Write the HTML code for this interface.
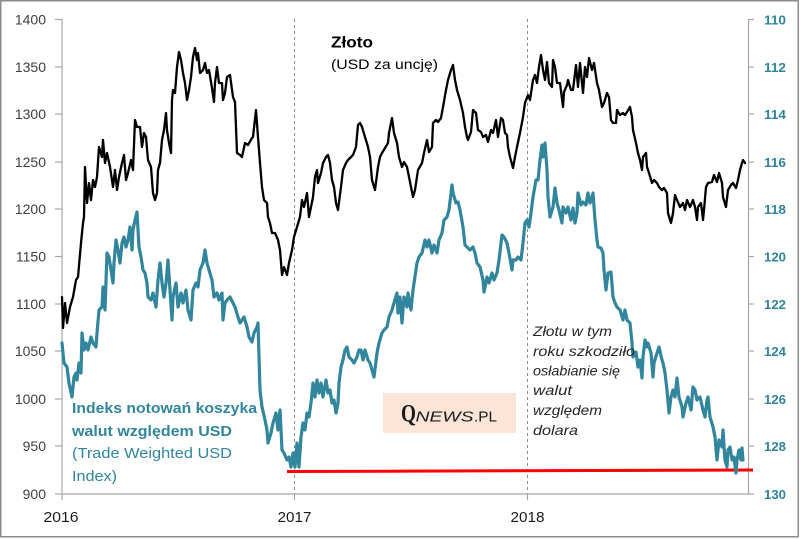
<!DOCTYPE html>
<html><head><meta charset="utf-8"><style>
html,body{margin:0;padding:0;background:#fff;}
svg{display:block;}
</style></head><body>
<svg width="800" height="539" viewBox="0 0 800 539" xmlns="http://www.w3.org/2000/svg">
<rect x="0" y="0" width="800" height="539" fill="#fff"/>
<rect x="0.75" y="0.75" width="797.5" height="536" fill="none" stroke="#8c8c8c" stroke-width="1.5"/>

<!-- dashed year lines -->
<line x1="294.5" y1="19" x2="294.5" y2="494" stroke="#8a8a8a" stroke-width="1" stroke-dasharray="3,3"/>
<line x1="527.5" y1="19" x2="527.5" y2="494" stroke="#8a8a8a" stroke-width="1" stroke-dasharray="3,3"/>

<!-- axes -->
<g stroke="#a6a6a6" stroke-width="1.2" fill="none">
<line x1="62" y1="19.5" x2="62" y2="500"/>
<line x1="748.5" y1="19.5" x2="748.5" y2="494"/>
<line x1="62" y1="494" x2="748.5" y2="494"/>
<line x1="55" y1="19.5" x2="62" y2="19.5"/>
<line x1="55" y1="67" x2="62" y2="67"/>
<line x1="55" y1="114" x2="62" y2="114"/>
<line x1="55" y1="162" x2="62" y2="162"/>
<line x1="55" y1="209" x2="62" y2="209"/>
<line x1="55" y1="256.5" x2="62" y2="256.5"/>
<line x1="55" y1="304" x2="62" y2="304"/>
<line x1="55" y1="351" x2="62" y2="351"/>
<line x1="55" y1="399" x2="62" y2="399"/>
<line x1="55" y1="446" x2="62" y2="446"/>
<line x1="55" y1="494" x2="62" y2="494"/>
<line x1="748.5" y1="19.5" x2="754" y2="19.5"/>
<line x1="748.5" y1="67" x2="754" y2="67"/>
<line x1="748.5" y1="114" x2="754" y2="114"/>
<line x1="748.5" y1="162" x2="754" y2="162"/>
<line x1="748.5" y1="209" x2="754" y2="209"/>
<line x1="748.5" y1="256.5" x2="754" y2="256.5"/>
<line x1="748.5" y1="304" x2="754" y2="304"/>
<line x1="748.5" y1="351" x2="754" y2="351"/>
<line x1="748.5" y1="399" x2="754" y2="399"/>
<line x1="748.5" y1="446" x2="754" y2="446"/>
<line x1="748.5" y1="494" x2="754" y2="494"/>
<line x1="294.5" y1="494" x2="294.5" y2="500"/>
<line x1="527.5" y1="494" x2="527.5" y2="500"/>
</g>

<!-- left tick labels -->
<g font-family="Liberation Sans, sans-serif" font-size="14" fill="#404040" text-anchor="end">
<text x="46" y="24.5">1400</text>
<text x="46" y="72">1350</text>
<text x="46" y="119">1300</text>
<text x="46" y="167">1250</text>
<text x="46" y="214">1200</text>
<text x="46" y="261.5">1150</text>
<text x="46" y="309">1100</text>
<text x="46" y="356">1050</text>
<text x="46" y="404">1000</text>
<text x="46" y="451">950</text>
<text x="46" y="499">900</text>
</g>

<!-- right tick labels -->
<g font-family="Liberation Sans, sans-serif" font-size="13" font-weight="bold" fill="#31849b">
<text x="764" y="24.5" textLength="22" lengthAdjust="spacingAndGlyphs">110</text>
<text x="764" y="72" textLength="22" lengthAdjust="spacingAndGlyphs">112</text>
<text x="764" y="119" textLength="22" lengthAdjust="spacingAndGlyphs">114</text>
<text x="764" y="167" textLength="22" lengthAdjust="spacingAndGlyphs">116</text>
<text x="764" y="214" textLength="22" lengthAdjust="spacingAndGlyphs">118</text>
<text x="764" y="261.5" textLength="22" lengthAdjust="spacingAndGlyphs">120</text>
<text x="764" y="309" textLength="22" lengthAdjust="spacingAndGlyphs">122</text>
<text x="764" y="356" textLength="22" lengthAdjust="spacingAndGlyphs">124</text>
<text x="764" y="404" textLength="22" lengthAdjust="spacingAndGlyphs">126</text>
<text x="764" y="451" textLength="22" lengthAdjust="spacingAndGlyphs">128</text>
<text x="764" y="499" textLength="22" lengthAdjust="spacingAndGlyphs">130</text>
</g>

<!-- x labels -->
<g font-family="Liberation Sans, sans-serif" font-size="14.5" fill="#1a1a1a">
<text x="43.5" y="522" textLength="35" lengthAdjust="spacingAndGlyphs">2016</text>
<text x="277.5" y="522" textLength="34" lengthAdjust="spacingAndGlyphs">2017</text>
<text x="510.5" y="522" textLength="34" lengthAdjust="spacingAndGlyphs">2018</text>
</g>

<!-- red line -->
<line x1="287" y1="471.5" x2="753" y2="470" stroke="#ff0000" stroke-width="3"/>

<!-- teal series -->
<polyline fill="none" stroke="#31859c" stroke-width="3.2" stroke-linejoin="round" stroke-linecap="round" points="62,343 64,363 67,367 69,383 72,397 74,377 76,373 77,380 79,363 81,373 82,333 84,350 86,343 88,350 91,337 93,343 96,347 97,333 99,310 102,307 103,287 105,310 107,253 109,257 111,270 113,283 114,263 116,240 118,250 120,263 122,243 124,237 126,247 128,240 130,227 132,250 133,230 135,220 137,212 139,247 141,257 143,270 145,273 147,283 148,297 151,300 153,293 156,307 158,280 160,263 162,283 164,297 166,283 168,260 170,290 172,320 173,297 176,283 178,307 181,293 183,303 186,290 188,310 191,320 193,290 196,283 198,287 200,270 203,263 205,250 207,263 209,270 212,280 214,297 217,293 219,300 222,293 223,320 225,303 227,300 230,297 233,303 235,307 238,317 240,323 242,320 244,317 247,327 249,337 252,342 254,333 257,327 258,323 260,390 262,407 265,420 267,430 268,443 271,433 273,423 276,413 278,430 280,410 282,450 284,453 287,460 289,457 291,467 293,453 295,467 297,443 299,467 301,437 303,423 305,430 307,413 309,417 311,403 313,383 315,397 317,380 319,393 321,383 323,397 326,380 328,393 330,390 332,403 334,400 336,413 338,403 339,383 341,367 343,360 345,350 347,347 349,357 352,360 354,363 357,357 359,350 361,350 363,360 365,350 368,360 370,363 372,370 374,377 377,353 379,343 382,333 384,330 387,327 389,317 392,310 394,303 397,293 398,313 400,297 402,323 404,297 407,307 408,293 411,310 413,290 417,263 419,257 422,253 425,240 427,247 429,240 432,253 434,245 437,253 439,240 442,233 444,220 447,217 449,210 452,185 453,193 456,203 458,202 460,210 463,227 465,245 467,247 470,250 473,247 475,253 477,263 480,267 483,280 484,292 487,277 489,283 492,273 494,280 497,273 499,260 502,235 504,237 507,243 509,253 512,270 513,260 516,260 518,257 521,260 523,243 525,223 527,220 529,227 531,213 533,197 536,180 538,180 540,160 542,145 543,157 545,143 547,170 548,197 550,217 553,207 555,188 557,203 559,210 562,223 563,207 566,213 568,207 571,220 573,208 575,223 577,213 578,193 581,205 583,202 586,205 588,193 590,203 592,197 593,193 595,220 597,240 598,247 601,248 603,253 604,270 606,290 608,273 611,272 613,297 615,303 617,307 620,310 623,320 625,310 627,320 630,323 632,343 633,357 636,352 638,367 640,360 642,378 643,357 645,340 647,347 648,343 651,353 653,377 654,363 657,353 659,347 662,360 663,363 665,373 667,390 669,413 671,397 673,390 675,397 677,378 679,397 682,407 683,417 686,403 688,397 691,410 693,387 695,390 697,400 700,397 703,410 705,417 707,400 708,397 710,417 713,427 715,437 717,460 719,440 722,447 723,430 725,460 727,467 728,450 730,447 732,460 734,457 736,473 737,460 739,450 741,460 742,448 743,460"/>

<!-- black gold series -->
<polyline fill="none" stroke="#000" stroke-width="2.3" stroke-linejoin="round" stroke-linecap="round" points="62,297 63,328 65,303 67,323 70,307 73,297 76,280 78,277 81,243 83,223 84,217 85,167 87,203 89,183 91,200 93,180 95,187 97,177 99,147 102,157 103,140 105,163 107,153 110,167 113,187 115,170 117,190 119,177 122,163 124,155 126,180 128,173 131,160 133,170 135,120 137,127 140,127 142,147 144,133 146,137 148,160 151,167 153,193 155,200 157,193 158,170 160,163 162,140 164,130 166,113 167,130 169,143 171,153 172,100 173,90 175,93 177,67 179,52 181,60 183,73 185,83 187,100 189,90 191,77 193,57 195,48 197,60 198,53 200,73 203,70 205,63 207,73 209,70 212,88 214,102 215,83 217,67 219,83 222,83 223,100 225,93 227,77 230,75 233,97 235,102 237,153 240,155 242,157 245,143 248,145 252,138 253,137 256,110 258,137 260,163 262,187 264,200 267,203 268,217 270,223 272,233 275,233 278,240 280,250 282,275 284,267 287,275 289,263 292,250 294,237 297,227 300,217 302,200 304,207 307,193 309,217 311,207 313,197 315,177 317,170 318,183 321,173 323,163 326,157 328,155 330,163 332,180 334,187 336,203 338,210 341,187 343,170 346,163 348,160 351,157 353,155 356,147 358,125 360,123 362,127 365,137 368,147 370,157 372,180 375,190 378,167 380,157 382,153 385,148 388,143 389,133 392,118 394,133 397,143 399,157 402,167 404,162 407,167 409,177 411,187 413,197 415,190 418,170 422,163 424,153 427,140 429,152 432,147 433,123 436,120 438,122 441,118 443,107 446,90 448,80 451,70 453,65 455,80 457,90 460,100 463,113 465,127 467,137 468,140 471,132 473,110 476,113 478,130 481,132 483,137 486,135 488,142 491,130 493,133 496,120 498,137 501,118 503,120 505,133 507,135 508,147 510,157 513,168 515,157 517,147 520,133 523,117 525,103 528,95 530,100 533,80 535,75 537,83 539,67 541,55 543,70 545,80 547,62 549,83 552,87 553,60 555,67 557,83 560,83 563,107 564,92 567,85 568,80 571,90 573,90 576,65 578,87 580,63 583,93 585,67 587,77 589,58 592,70 594,63 597,83 599,90 602,107 604,103 607,93 609,97 611,120 613,123 616,123 617,110 620,115 623,113 625,115 627,112 630,107 632,117 633,130 636,143 638,153 640,160 642,170 643,157 646,153 647,167 649,173 652,183 654,180 657,183 659,187 662,190 664,188 667,193 668,213 671,223 673,213 675,195 677,200 680,207 683,203 685,210 687,200 690,207 693,200 695,207 697,220 698,207 701,203 703,220 704,210 706,187 708,183 712,182 714,175 717,182 719,173 722,183 723,197 726,207 728,190 731,185 733,183 736,188 738,180 740,170 742,163 743,160 745,163"/>

<!-- title -->
<text x="331" y="47.5" font-family="Liberation Sans, sans-serif" font-size="16" font-weight="bold" fill="#000" textLength="42" lengthAdjust="spacingAndGlyphs">Złoto</text>
<text x="331" y="69" font-family="Liberation Sans, sans-serif" font-size="14" fill="#000" textLength="107" lengthAdjust="spacingAndGlyphs">(USD za uncję)</text>

<!-- teal label -->
<g font-family="Liberation Sans, sans-serif" font-size="14.5" fill="#31859c">
<text x="72" y="413" font-weight="bold" textLength="185" lengthAdjust="spacingAndGlyphs">Indeks notowań koszyka</text>
<text x="72" y="436" font-weight="bold" textLength="160" lengthAdjust="spacingAndGlyphs">walut względem USD</text>
<text x="72" y="458" textLength="160" lengthAdjust="spacingAndGlyphs">(Trade Weighted USD</text>
<text x="72" y="481" textLength="45" lengthAdjust="spacingAndGlyphs">Index)</text>
</g>

<!-- annotation -->
<g font-family="Liberation Sans, sans-serif" font-size="14" font-style="italic" fill="#262626">
<text x="533" y="336" textLength="79" lengthAdjust="spacingAndGlyphs">Złotu w tym</text>
<text x="533" y="356" textLength="102" lengthAdjust="spacingAndGlyphs">roku szkodziło</text>
<text x="533" y="375.5" textLength="87" lengthAdjust="spacingAndGlyphs">osłabianie się</text>
<text x="533" y="395" textLength="39" lengthAdjust="spacingAndGlyphs">walut</text>
<text x="533" y="415" textLength="69" lengthAdjust="spacingAndGlyphs">względem</text>
<text x="533" y="435" textLength="45" lengthAdjust="spacingAndGlyphs">dolara</text>
</g>

<!-- QNEWS box -->
<rect x="383" y="393" width="133" height="40" fill="#fce4d6"/>
<text x="401" y="421.5" font-family="Liberation Serif, serif" font-size="25" font-weight="bold" fill="#1a1a1a" textLength="15" lengthAdjust="spacingAndGlyphs">Q</text>
<text x="415.5" y="421.5" font-family="Liberation Sans, sans-serif" font-size="14.5" font-style="italic" fill="#1a1a1a" textLength="58" lengthAdjust="spacingAndGlyphs">NEWS</text>
<text x="474" y="421.5" font-family="Liberation Sans, sans-serif" font-size="14.5" fill="#1a1a1a" textLength="23" lengthAdjust="spacingAndGlyphs">.PL</text>
</svg>
</body></html>
